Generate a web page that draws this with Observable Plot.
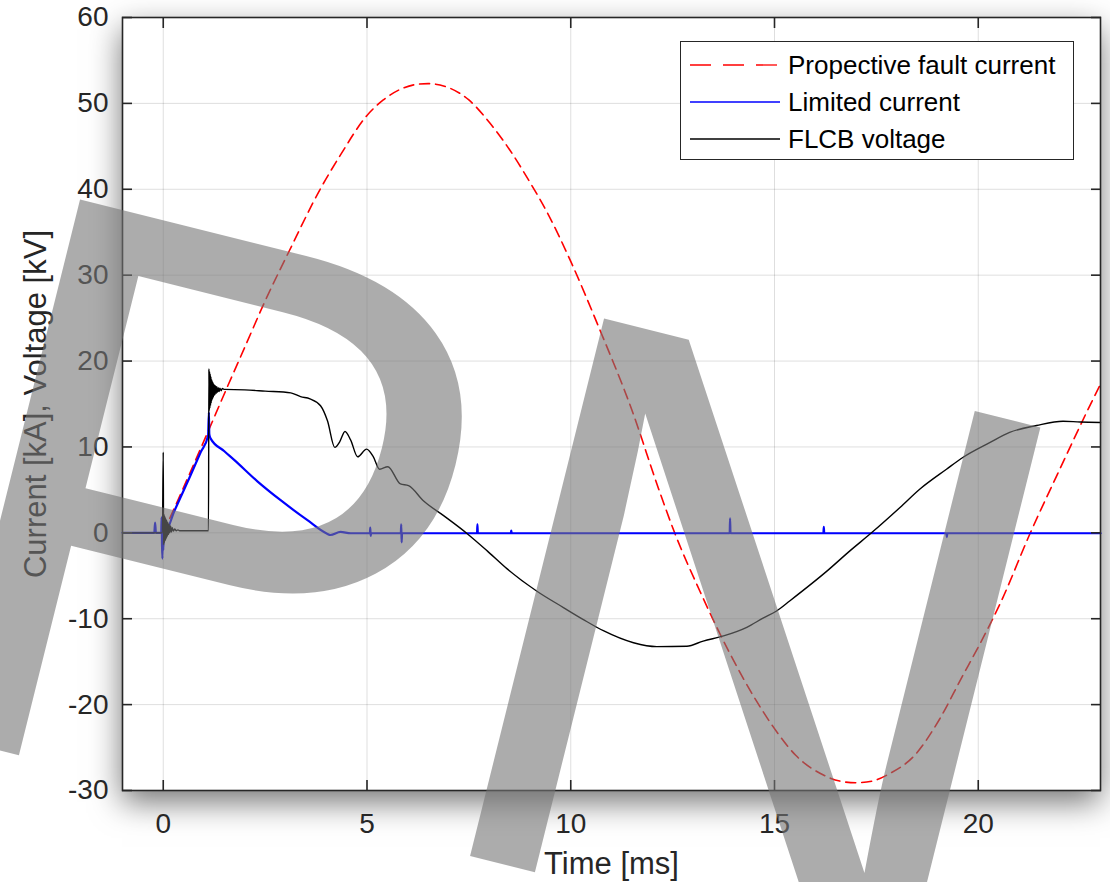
<!DOCTYPE html>
<html><head><meta charset="utf-8">
<script src="https://cdn.jsdelivr.net/npm/d3@7"></script>
<script src="https://cdn.jsdelivr.net/npm/@observablehq/plot@0.6"></script>
<style>
body{margin:0;background:#fff;}
#wrap{position:relative;width:1110px;height:882px;overflow:hidden;font-family:"Liberation Sans",Arial,Helvetica,sans-serif;}
#shadow{position:absolute;left:122px;top:17px;width:978px;height:773px;background:#fff;box-shadow:0 12px 30px rgba(0,0,0,0.55);}
#chart{position:absolute;left:0;top:0;}
#legend{position:absolute;left:680px;top:41px;width:394px;height:119px;background:#fff;border:1px solid #262626;box-sizing:border-box;}
#wm{position:absolute;left:0;top:0;pointer-events:none;}
</style></head><body>
<div id="wrap"><div id="shadow"></div><div id="chart"></div><div id="legend"></div><svg id="wm" width="1110" height="882"></svg></div>
<script>
// Tick values
const xTicks = [0, 5, 10, 15, 20];
const yTicks = [-30, -20, -10, 0, 10, 20, 30, 40, 50, 60];

// Propective fault current [kA]
const faultT = [0, 0.5, 1.1, 1.5, 2.0, 2.5, 3.1, 3.85, 4.35, 5.0, 5.4, 5.8, 6.2, 6.5, 6.9, 7.5, 8.0, 8.5, 9.0, 9.4, 10.0, 10.7, 11.5, 12.15, 12.55, 13.17, 13.9, 14.56, 15.0, 15.52, 16.2, 16.6, 17.0, 17.4, 17.8, 18.44, 19.05, 19.6, 20.0, 20.57, 21.26, 22.0, 22.8, 23.0];
const faultV = [0, 5.3, 11.8, 16.2, 21.6, 27.0, 32.9, 40.0, 44.0, 48.6, 50.4, 51.6, 52.2, 52.3, 52.0, 50.4, 47.8, 44.6, 40.8, 37.5, 31.6, 23.8, 14.3, 5.2, 0, -6.8, -14.0, -19.6, -22.8, -25.9, -28.2, -28.9, -29.1, -28.9, -28.1, -25.9, -21.7, -16.8, -13.3, -7.9, -0.2, 7.4, 15.4, 17.3];

// Limited current [kA]
const limitedT = [-1, -0.22, -0.2, -0.18, -0.05, -0.04, -0.03, -0.02, -0.01, 0, 0.02, 0.06, 0.26, 0.67, 0.92, 1.1, 1.12, 1.13, 1.16, 1.5, 1.74, 2.31, 2.88, 3.53, 4.02, 4.1, 4.35, 4.6, 5.07, 5.08, 5.09, 5.1, 5.83, 5.84, 5.85, 5.86, 7.7, 7.71, 7.72, 8.53, 8.54, 8.55, 13.9, 13.91, 13.92, 16.2, 16.21, 16.22, 19.22, 19.23, 19.24, 23];
const limitedV = [0, 0, 1.2, 0, 0, 1.8, -1.5, -3.0, 1.0, -2.0, 0.3, 0.2, 2.4, 6.7, 9.4, 11.3, 14.0, 11.5, 11.0, 9.5, 8.5, 6.0, 3.8, 1.5, -0.1, -0.25, 0.1, -0.05, -0.05, 0.6, -0.35, -0.05, -0.05, 1.0, -1.1, -0.05, -0.05, 1.0, -0.05, -0.05, 0.25, -0.05, -0.05, 1.7, -0.05, -0.05, 0.7, -0.05, -0.05, -0.5, -0.05, -0.05];

// FLCB voltage [kV]
const voltageT = [-1, -0.02, 0, 0.008, 0.016, 0.024, 0.032, 0.04, 0.05, 0.06, 0.07, 0.08, 0.09, 0.10, 0.115, 0.13, 0.145, 0.16, 0.18, 0.2, 0.22, 0.25, 0.28, 0.32, 0.36, 0.4,
  1.11, 1.12, 1.128, 1.136, 1.144, 1.152, 1.16, 1.168, 1.176, 1.184, 1.192, 1.2, 1.21, 1.22, 1.23, 1.24, 1.25, 1.26, 1.27, 1.285, 1.3, 1.315, 1.33, 1.35, 1.37, 1.39, 1.42, 1.45, 1.5,
  2.0, 2.5, 3.13, 3.37, 3.6, 3.86, 4.03, 4.21, 4.33, 4.46, 4.6, 4.77, 4.99, 5.15, 5.31, 5.51, 5.82, 6.02, 6.39, 6.88, 7.46, 7.95, 8.44, 9.17, 9.82, 10.31, 10.8, 11.54, 12.11, 12.85, 13.25, 13.75, 14.32, 14.73, 15.05, 15.38, 16.3, 16.85, 17.38, 18.08, 18.57, 19.22, 19.63, 20.28, 20.77, 21.43, 22.08, 22.5, 23];
const voltageV = [0, 0, 9.4, -1.4, 2.2, -1.2, 2.0, -1.0, 1.8, -0.8, 1.6, -0.6, 1.4, -0.4, 1.2, -0.2, 1.0, 0, 0.8, 0.1, 0.6, 0.2, 0.45, 0.25, 0.35, 0.25,
  0.25, 19.1, 14.2, 18.8, 14.5, 18.5, 14.8, 18.2, 15.1, 17.9, 15.4, 17.7, 15.6, 17.5, 15.8, 17.3, 16.0, 17.2, 16.1, 17.1, 16.25, 17.0, 16.35, 16.9, 16.45, 16.85, 16.55, 16.8, 16.7,
  16.65, 16.5, 16.3, 15.85, 15.6, 14.8, 13.05, 9.95, 10.6, 11.8, 10.8, 8.85, 9.75, 8.9, 7.4, 7.7, 5.7, 5.5, 3.7, 2.0, -0.1, -2.1, -4.2, -6.8, -8.7, -10.1, -11.4, -12.8, -13.25, -13.2, -12.6, -12.0, -11.0, -9.9, -9.1, -7.9, -4.4, -2.1, 0, 2.95, 5.1, 7.4, 8.8, 10.5, 11.7, 12.5, 13.0, 12.9, 12.85];

const seriesNames = ["Propective fault current", "Limited current", "FLCB voltage"];
const seriesColors = ["#ff0000", "#0000ff", "#000000"];

const toRows = (T, V) => T.map((t, i) => ({t, v: V[i]}));
const fault = toRows(faultT, faultV);
const limited = toRows(limitedT, limitedV);
const voltage = toRows(voltageT, voltageV);

const ink = "#262626";
const fmt = d => String(d);
const none = () => "";

const chart = Plot.plot({
  width: 1110, height: 882,
  marginLeft: 122, marginTop: 17, marginRight: 10, marginBottom: 92,
  style: {background: "transparent", fontFamily: "'Liberation Sans', Arial, Helvetica, sans-serif", fontSize: "28px", color: ink, overflow: "visible"},
  x: {domain: [-1, 23]},
  y: {domain: [-30, 60]},
  marks: [
    Plot.gridX(xTicks, {stroke: "#000", strokeOpacity: 0.13}),
    Plot.gridY(yTicks, {stroke: "#000", strokeOpacity: 0.13}),
    Plot.line(fault, {x: "t", y: "v", stroke: seriesColors[0], strokeWidth: 1.6, strokeDasharray: "10,6", curve: "monotone-x"}),
    Plot.line(limited, {x: "t", y: "v", stroke: seriesColors[1], strokeWidth: 2.2, curve: "monotone-x"}),
    Plot.line(voltage, {x: "t", y: "v", stroke: seriesColors[2], strokeWidth: 1.4, curve: "monotone-x"}),
    Plot.axisX(xTicks, {anchor: "bottom", tickSize: 0, tickPadding: 23, tickFormat: fmt, label: null, fontSize: 28, fill: ink}),
    Plot.axisX(xTicks, {anchor: "bottom", tickSize: 10, dy: -10, tickFormat: none, label: null, stroke: ink, strokeWidth: 1.6}),
    Plot.axisX(xTicks, {anchor: "top", tickSize: 10, dy: 10, tickFormat: none, label: null, stroke: ink, strokeWidth: 1.6}),
    Plot.axisY(yTicks, {anchor: "left", tickSize: 0, tickPadding: 14, tickFormat: fmt, label: null, fontSize: 28, fill: ink}),
    Plot.axisY(yTicks, {anchor: "left", tickSize: 10, dx: 10, tickFormat: none, label: null, stroke: ink, strokeWidth: 1.6}),
    Plot.axisY(yTicks, {anchor: "right", tickSize: 10, dx: -10, tickFormat: none, label: null, stroke: ink, strokeWidth: 1.6}),
    Plot.frame({stroke: ink, strokeWidth: 1.6}),
    Plot.text(["Time [ms]"], {text: d => d, frameAnchor: "bottom", dy: 74, lineAnchor: "middle", textAnchor: "middle", fontSize: 31, fill: ink}),
    Plot.text(["Current [kA], Voltage [kV]"], {text: d => d, frameAnchor: "left", dx: -86, rotate: -90, lineAnchor: "middle", textAnchor: "middle", fontSize: 31, fill: ink})
  ]
});
document.getElementById("chart").appendChild(chart);

// Legend
const lg = d3.select("#legend").append("svg").attr("width", 392).attr("height", 117);
seriesNames.forEach((name, i) => {
  const cy = 23 + i * 37;
  lg.append("line").attr("x1", 9).attr("x2", 99).attr("y1", cy).attr("y2", cy)
    .attr("stroke", seriesColors[i]).attr("stroke-width", i === 1 ? 1.6 : 1.3)
    .attr("stroke-dasharray", i === 0 ? "21,12" : null);
  lg.append("text").attr("x", 107).attr("y", cy).attr("dy", "0.35em")
    .attr("font-family", "'Liberation Sans', Arial, sans-serif").attr("font-size", 26).attr("fill", "#000").text(name);
});

// Watermark letters
const wm = d3.select("#wm");
[["P", "translate(-118,721) rotate(14)"], ["N", "translate(406,840) rotate(14)"]].forEach(([ch, tr]) => {
  wm.append("text")
    .attr("transform", tr)
    .attr("font-family", "'Liberation Sans', Arial, sans-serif")
    .attr("font-size", 805)
    .attr("fill", "rgb(116,116,116)").attr("fill-opacity", 0.6)
    .text(ch);
});
</script>
</body></html>
